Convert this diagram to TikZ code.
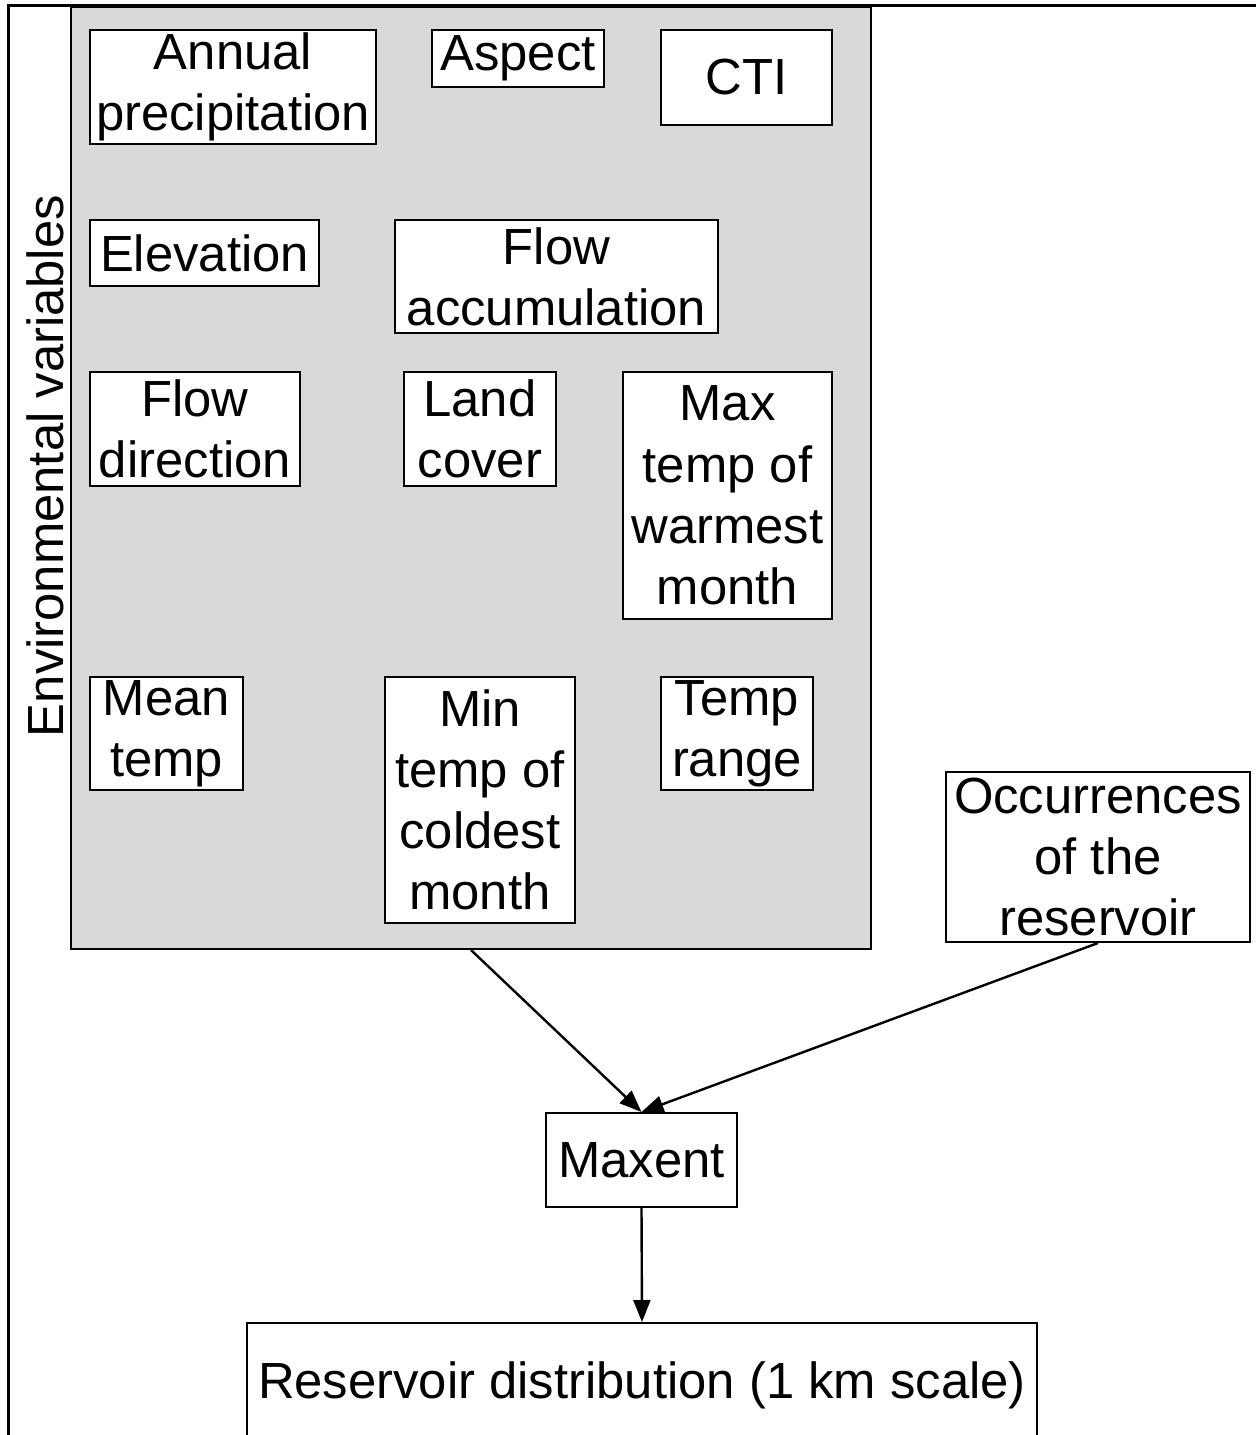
\documentclass[tikz,border=0pt]{standalone}
\usepackage{fontspec}
\setmainfont{Liberation Sans}
\usepackage{tikz}
\usetikzlibrary{arrows.meta}
\definecolor{envgray}{RGB}{217,217,217}

\tikzset{
	varbox/.style={draw, fill=white, line width=1pt, align=center, inner sep=0pt,
		font=\fontsize{25.4pt}{30.6pt}\selectfont},
	flowarrow/.style={line width=1.2pt, -{Triangle[length=11pt,width=8.5pt]}}
}

\begin{document}
\begin{tikzpicture}[x=0.5pt, y=-0.5pt]
				\useasboundingbox (0,0) rectangle (1255,1435);
				\draw[line width=1.5pt] (8,1445) |- (1265,5);
				
				\node[draw, fill=envgray, line width=1pt, inner sep=0pt, minimum width=400pt, minimum height=471pt] (env) at (471,478) {};
				\node[rotate=90, inner sep=0pt, font=\fontsize{25.4pt}{30.6pt}\selectfont] (envlabel) at (45,466) {Environmental variables};
				
				\node[varbox, minimum width=143pt, minimum height=57pt] (prec) at (233,87) {Annual\\precipitation};
				\node[varbox, minimum width=86pt, minimum height=28.5pt] (aspect) at (518,58.5) {Aspect};
				\node[varbox, minimum width=85.5pt, minimum height=47.5pt] (cti) at (746.5,77.5) {CTI};
				\node[varbox, minimum width=114.5pt, minimum height=33pt] (elev) at (204.5,253) {Elevation};
				\node[varbox, minimum width=161.5pt, minimum height=56.5pt] (flowacc) at (556.5,276.5) {Flow\\accumulation};
				\node[varbox, minimum width=105pt, minimum height=57pt] (flowdir) at (195,429) {Flow\\direction};
				\node[varbox, minimum width=76pt, minimum height=57pt] (land) at (480,429) {Land\\cover};
				\node[varbox, minimum width=104.5pt, minimum height=123.5pt] (maxtemp) at (727.5,495.5) {Max\\temp of\\warmest\\month};
				\node[varbox, minimum width=76.5pt, minimum height=56.5pt] (meantemp) at (166.5,733.5) {Mean\\temp};
				\node[varbox, minimum width=95pt, minimum height=123pt] (mintemp) at (480,800) {Min\\temp of\\coldest\\month};
				\node[varbox, minimum width=76pt, minimum height=56.5pt] (temprange) at (737,733.5) {Temp\\range};
				
				\node[varbox, minimum width=152pt, minimum height=85pt] (occ) at (1098,857) {Occurrences\\of the\\reservoir};
				\node[varbox, minimum width=95.5pt, minimum height=47pt] (maxent) at (641.5,1160) {Maxent};
				\node[varbox, minimum width=395pt, minimum height=62pt] (resdist) at (642,1385) {Reservoir distribution (1 km scale)};
				
				\draw[flowarrow] (env.south) -- (maxent.north);
				\draw[flowarrow] (occ.south) -- (maxent.north);
				\draw[flowarrow] (maxent.south) -- (resdist.north);
			\end{tikzpicture}
\end{document}
